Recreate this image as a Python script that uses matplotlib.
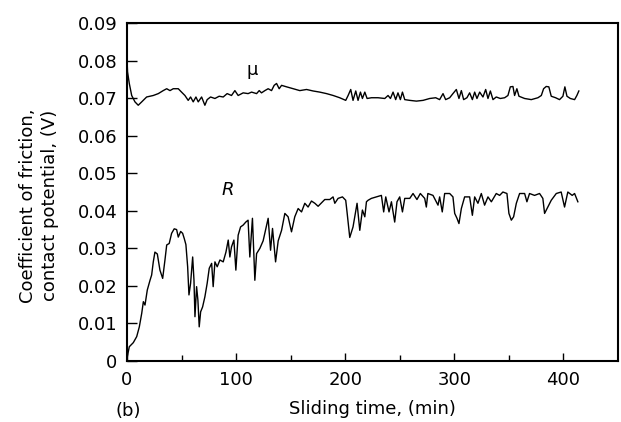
import matplotlib
matplotlib.use("Agg")
import matplotlib.pyplot as plt
import numpy as np

# contact potential R
r_time = [0, 2.1, 5.8, 8.9, 11.3, 13.5, 15, 16.5, 18.6, 21.1, 22.6, 24.1, 25.6, 27.8,
          30.2, 32.7, 34.8, 36.4, 38.7, 40.9, 43.3, 45.5, 47, 49.2, 51, 52.5, 54, 55.6,
          56.8, 58.3, 60.2, 61.4, 62.3, 63.8, 65, 66.2, 67.5, 69.3, 71.4, 73.5, 75.4,
          77.6, 79, 80.6, 82.7, 85.2, 88.2, 90.7, 92.8, 94.3, 95.8, 98, 99.8, 101.9,
          104.1, 106.5, 108.9, 111, 112.6, 115, 117.2, 118.8, 121.8, 124.8, 129.4,
          131.6, 133.4, 136.2, 138.6, 141.7, 144.7, 147.7, 150.8, 153.8, 156.9, 160,
          163, 166, 169.1, 172.2, 175.2, 178.3, 181.3, 185.9, 188.9, 190.5, 193.5,
          197.5, 200.5, 201.7, 204.2, 207.2, 210.9, 213.4, 215.8, 218, 219.5, 221, 224,
          228.7, 233.2, 235.3, 237.2, 240.2, 242.4, 245.4, 247.5, 250, 252.5, 254.6,
          259.2, 262.2, 265.8, 268.9, 272.9, 274.4, 275.8, 280.5, 285.1, 286.6, 289,
          291.2, 295.8, 298.8, 300.4, 302.5, 304.3, 306.5, 309.5, 314.1, 316.6, 318.7,
          321.7, 324.8, 327.8, 330.9, 334, 338.5, 341.6, 344.6, 348.3, 350.1, 352.3,
          354.4, 356.9, 359.9, 364.5, 366.6, 369, 373.6, 378.2, 381.2, 382.8, 385.8,
          388.9, 393.5, 398, 401.1, 404.1, 408.1, 410.3, 413.3]
r_vals = [0.0007, 0.0038, 0.0049, 0.0065, 0.0091, 0.0127, 0.0158, 0.0149, 0.0189, 0.0215,
          0.0229, 0.0264, 0.029, 0.0285, 0.0242, 0.022, 0.0269, 0.0309, 0.0313, 0.034,
          0.0352, 0.035, 0.033, 0.0345, 0.034, 0.0326, 0.031, 0.0251, 0.0176, 0.0207,
          0.0277, 0.0215, 0.0118, 0.0198, 0.0162, 0.0091, 0.0131, 0.0144, 0.0171,
          0.0207, 0.0247, 0.026, 0.0198, 0.0264, 0.0251, 0.0269, 0.0264, 0.029, 0.0322,
          0.0277, 0.0304, 0.0322, 0.0242, 0.0335, 0.0357, 0.0362, 0.037, 0.0375,
          0.0277, 0.038, 0.0215, 0.0286, 0.03, 0.032, 0.038, 0.0295, 0.0353, 0.0264,
          0.032, 0.0348, 0.0393, 0.0384, 0.0344, 0.0384, 0.0406, 0.0397, 0.042, 0.041,
          0.0426, 0.042, 0.0412, 0.0421, 0.043, 0.043, 0.0437, 0.042, 0.0433, 0.0437,
          0.0428, 0.0397, 0.0329, 0.0357, 0.042, 0.0348, 0.0402, 0.0384, 0.0424,
          0.0428, 0.0433, 0.0437, 0.0441, 0.0397, 0.0437, 0.0397, 0.0424, 0.037,
          0.0424, 0.0437, 0.0397, 0.0433, 0.0433, 0.0446, 0.043, 0.0446, 0.0433,
          0.041, 0.0446, 0.0441, 0.0415, 0.0437, 0.0397, 0.0446, 0.0446, 0.0437,
          0.0393, 0.038, 0.0366, 0.0406, 0.0437, 0.0437, 0.0388, 0.0437, 0.042,
          0.0446, 0.0415, 0.0437, 0.0424, 0.0446, 0.0441, 0.045, 0.0446, 0.0393,
          0.0375, 0.0384, 0.042, 0.0446, 0.0446, 0.0424, 0.0446, 0.0441, 0.0446,
          0.0433, 0.0393, 0.041, 0.0428, 0.0446, 0.045, 0.041, 0.045, 0.0441, 0.0446,
          0.0424]

# coefficient of friction mu
mu_time = [0, 0.5, 2.1, 4.3, 7.3, 10.3, 13.5, 18, 24.1, 28.7, 33.2, 36.4, 39.4, 42.4, 47,
           50, 53.1, 56.1, 58.3, 60.7, 63.2, 65.3, 68.4, 71.4, 73.5, 76.6, 80.6, 84.5,
           88.2, 91.8, 95.8, 98.9, 101.9, 106.5, 111, 114.2, 118.8, 121.2, 123.3,
           126.4, 129.4, 132.5, 134.9, 137.1, 139.5, 141.7, 146.3, 152.4, 158.4,
           164.6, 170.6, 176.7, 182.9, 189, 195, 200.5, 202.7, 205.1, 207.2, 209.7,
           211.8, 214, 215.8, 218, 220.1, 224.1, 230.1, 236.3, 239.3, 241.5, 243.9,
           246.3, 248.4, 250.6, 252.5, 254.6, 259.2, 265.3, 271.4, 277.5, 283, 286.6,
           289.7, 292.1, 295.8, 298.8, 301.9, 304.3, 306.5, 308.6, 311.6, 314.1,
           316.6, 318.7, 320.8, 323.3, 326.3, 328.8, 330.9, 333.1, 335.5, 338.5,
           342.2, 346.2, 349.2, 351.4, 353.8, 355.3, 357.4, 359.3, 364.5, 370.6,
           376.7, 379.8, 381.9, 384.3, 386.7, 388.9, 392.9, 396.5, 399.6, 401.4,
           403.3, 406.4, 410.3, 412.4, 414.2]
mu_vals = [0.0805, 0.077, 0.0739, 0.0707, 0.069, 0.0681, 0.069, 0.0703, 0.0707, 0.0712,
           0.072, 0.0725, 0.072, 0.0725, 0.0725, 0.0716, 0.0707, 0.0694, 0.0703, 0.069,
           0.0703, 0.069, 0.0703, 0.0681, 0.0696, 0.0703, 0.0699, 0.0705, 0.0703,
           0.0712, 0.0707, 0.072, 0.0707, 0.0714, 0.0712, 0.0716, 0.0712, 0.072,
           0.0714, 0.072, 0.0725, 0.072, 0.0734, 0.0739, 0.0725, 0.0734, 0.073,
           0.0725, 0.072, 0.0723, 0.0719, 0.0716, 0.0712, 0.0707, 0.0701, 0.0694,
           0.0707, 0.0723, 0.0694, 0.0719, 0.0694, 0.0716, 0.0699, 0.0716, 0.0699,
           0.0701, 0.0701, 0.0699, 0.0707, 0.0699, 0.0716, 0.0696, 0.0714, 0.0696,
           0.0716, 0.0696, 0.0694, 0.0692, 0.0694, 0.0699, 0.0701, 0.0696, 0.0712,
           0.0696, 0.0701, 0.0712, 0.0723, 0.0699, 0.072, 0.0696, 0.0701, 0.0714,
           0.0696, 0.0716, 0.0699, 0.0716, 0.0703, 0.0723, 0.0699, 0.0719, 0.0696,
           0.0703, 0.0699, 0.0701, 0.0707, 0.073, 0.0731, 0.0707, 0.0725, 0.0705,
           0.0699, 0.0696, 0.0701, 0.0707, 0.0725, 0.0731, 0.073, 0.0705, 0.0701,
           0.0696, 0.0705, 0.073, 0.0705, 0.0699, 0.0696, 0.0707, 0.0719]

x_ticks = [0, 100, 200, 300, 400]
y_ticks = [0, 0.01, 0.02, 0.03, 0.04, 0.05, 0.06, 0.07, 0.08, 0.09]
y_ticklabels = ["0", "0.01", "0.02", "0.03", "0.04", "0.05", "0.06", "0.07", "0.08", "0.09"]

plt.rcParams['font.family'] = ['DejaVu Sans']
fs = 13

fig = plt.figure(figsize=(6.21, 4.22), dpi=100)
ax = fig.add_axes([0.2045, 0.1445, 0.7905, 0.801])

ax.plot(mu_time, mu_vals, color='black', lw=1.0)
ax.plot(r_time, r_vals, color='black', lw=1.0)

ax.set_xlim(0, 450)
ax.set_ylim(0, 0.09)
ax.set_xticks(x_ticks)
ax.set_xticks([50, 150, 250, 350], minor=True)
ax.set_yticks(y_ticks)
ax.set_yticklabels(y_ticklabels)

ax.tick_params(axis='both', direction='in', labelsize=fs, width=1.0)
ax.tick_params(axis='x', which='major', length=6, pad=7)
ax.tick_params(axis='x', which='minor', length=4, direction='in', width=1.0)
ax.tick_params(axis='y', which='major', length=7, pad=7)
for sp in ax.spines.values():
    sp.set_linewidth(1.5)

ax.set_xlabel("Sliding time, (min)", fontsize=fs, va='top')
ax.xaxis.set_label_coords(0.5, -0.115)
ax.set_ylabel("Coefficient of friction,\ncontact potential, (V)", fontsize=fs,
              linespacing=1.3)
ax.yaxis.set_label_coords(-0.139, 0.46)

ax.text(115, 0.0774, "\u03bc", fontsize=fs, ha='center', va='center')
ax.text(92.5, 0.0455, "R", fontsize=fs, style='italic', ha='center', va='center')
fig.text(128 / 621, 1 - 411 / 422, "(b)", fontsize=fs, ha='center', va='center')

fig.savefig("out.png", dpi=100)
